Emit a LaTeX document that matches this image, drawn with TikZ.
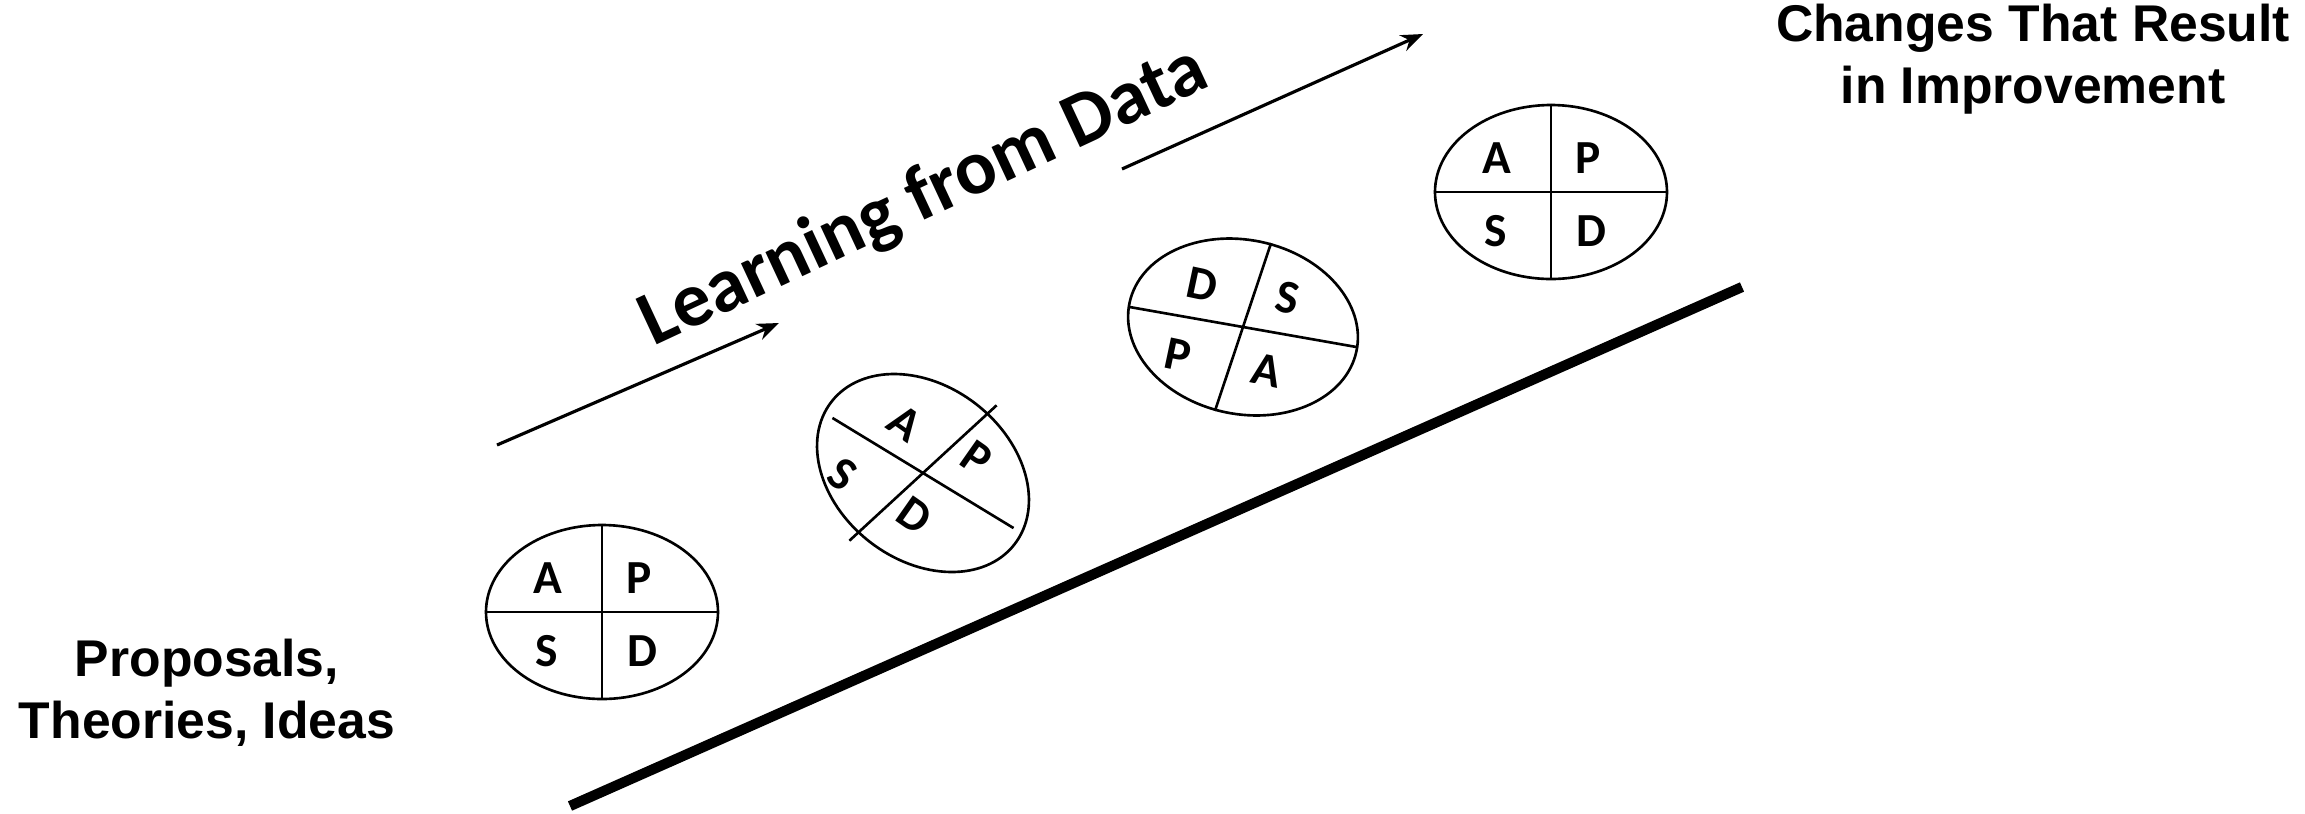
\documentclass[tikz,border=0pt]{standalone}
\usepackage{fontspec}
\setmainfont{Liberation Sans}
\newfontfamily\calibri{Carlito}
\usetikzlibrary{arrows.meta, shapes.geometric}
\tikzset{
  every picture/.style={line width=0.75pt},
  cycle/.style={draw, ellipse, inner sep=0pt, minimum width=2.32cm, minimum height=1.74cm},
  letter/.style={font=\calibri\fontsize{13.5}{15}\selectfont\bfseries, inner sep=0pt},
  arrow/.style={-{Stealth[length=2.2mm, width=1.7mm]}, line width=0.9pt},
  ramp/.style={line width=2.9pt},
  label/.style={font=\fontsize{14.7}{17.6}\selectfont\bfseries, align=center, inner sep=0pt},
  slogan/.style={font=\calibri\fontsize{22}{24}\selectfont\bfseries, inner sep=0pt},
}
\begin{document}
\begin{tikzpicture}
  \useasboundingbox (0,0) rectangle (23.05,-8.13);
  % the four PDSA cycles
  \node[cycle] (c1) at (6.02,-6.12) {};
  \node[cycle, rotate=-38] (c2) at (9.23,-4.73) {};
  \node[cycle, rotate=-12] (c3) at (12.43,-3.27) {};
  \node[cycle] (c4) at (15.51,-1.92) {};
  % upright cycles
  \foreach \c in {c1,c4} {
    \draw (\c.north) -- (\c.south);
    \draw (\c.west) -- (\c.east);
    \foreach \l/\x/\y in {A/-0.54/0.34, P/0.37/0.34, S/-0.55/-0.39, D/0.40/-0.39}
      \node[letter] (\c\l) at ([shift={(\x,\y)}]\c.center) {\l};
  }
  % turned cycles
  \foreach \a/\r in {-31.3/1.06, 42.6/1.0}
    \draw ([shift={(\a:\r)}]c2.center) -- ([shift={(\a+180:\r)}]c2.center);
  \foreach \l/\x/\y in {A/9.05/-4.23, P/9.77/-4.58, S/8.43/-4.74, D/9.15/-5.15}
    \node[letter, rotate=-35] (c2\l) at (\x,\y) {\l};
  \foreach \a/\r in {-10/1.15, 71.5/0.885}
    \draw ([shift={(\a:\r)}]c3.center) -- ([shift={(\a+180:\r)}]c3.center);
  \foreach \l/\x/\y in {D/12.02/-2.85, S/12.88/-2.98, P/11.78/-3.55, A/12.67/-3.70}
    \node[letter, rotate=-12] (c3\l) at (\x,\y) {\l};
  % ramp and arrows
  \coordinate (r0) at (5.70,-8.06);
  \coordinate (r1) at (17.42,-2.87);
  \draw[ramp] (r0) -- (r1);
  \coordinate (a0) at (4.97,-4.45);
  \coordinate (a1) at (7.79,-3.23);
  \coordinate (b0) at (11.22,-1.69);
  \coordinate (b1) at (14.23,-0.34);
  \draw[arrow] (a0) -- (a1);
  \draw[arrow] (b0) -- (b1);
  \node[slogan, rotate=25, anchor=base] (learn) at (9.33,-2.16) {Learning from Data};
  % end labels
  \node[label, anchor=base] (start) at (2.07,-7.38) {Proposals,\\Theories, Ideas};
  \node[label, anchor=base] (goal) at (20.33,-1.03) {Changes That Result\\in Improvement};
\end{tikzpicture}
\end{document}
